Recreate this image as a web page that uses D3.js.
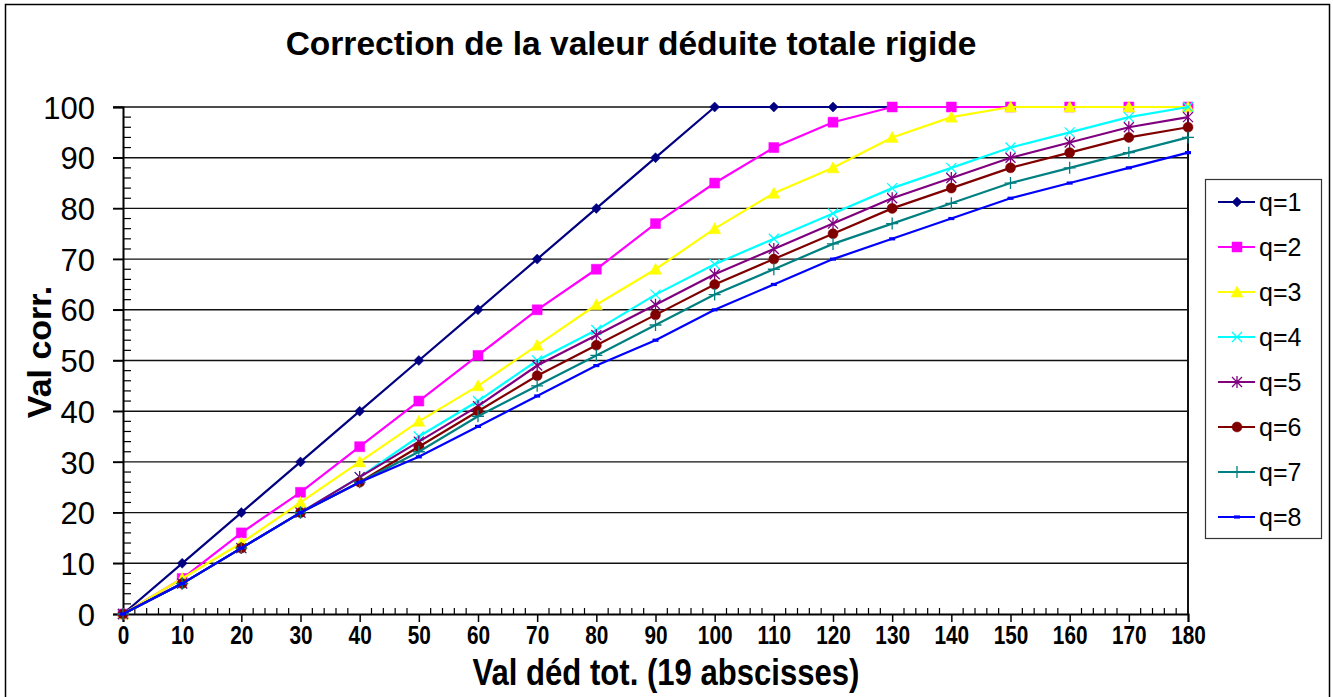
<!DOCTYPE html>
<html>
<head>
<meta charset="utf-8">
<script src="https://cdn.jsdelivr.net/npm/d3@7"></script>
<style>
  body { margin: 0; background: #fff; }
  svg { display: block; }
  text { font-family: "Liberation Sans", Arial, sans-serif; fill: #000; }
</style>
</head>
<body>
<script>
// abscissa values (19 points)
var xVals = [0, 10, 20, 30, 40, 50, 60, 70, 80, 90, 100, 110, 120, 130, 140, 150, 160, 170, 180];

// corrected values for each q
var q1 = [0, 10, 20, 30, 40, 50, 60, 70, 80, 90, 100, 100, 100, 100, 100, 100, 100, 100, 100];
var q2 = [0, 7, 16, 24, 33, 42, 51, 60, 68, 77, 85, 92, 97, 100, 100, 100, 100, 100, 100];
var q3 = [0, 7, 14, 22, 30, 38, 45, 53, 61, 68, 76, 83, 88, 94, 98, 100, 100, 100, 100];
var q4 = [0, 6, 13, 20, 27, 35, 42, 50, 56, 63, 69, 74, 79, 84, 88, 92, 95, 98, 100];
var q5 = [0, 6, 13, 20, 27, 34, 41, 49, 55, 61, 67, 72, 77, 82, 86, 90, 93, 96, 98];
var q6 = [0, 6, 13, 20, 26, 33, 40, 47, 53, 59, 65, 70, 75, 80, 84, 88, 91, 94, 96];
var q7 = [0, 6, 13, 20, 26, 32, 39, 45, 51, 57, 63, 68, 73, 77, 81, 85, 88, 91, 94];
var q8 = [0, 6, 13, 20, 26, 31, 37, 43, 49, 54, 60, 65, 70, 74, 78, 82, 85, 88, 91];

var seriesNames = ['q=1', 'q=2', 'q=3', 'q=4', 'q=5', 'q=6', 'q=7', 'q=8'];
var seriesColors = ['#000080', '#ff00ff', '#ffff00', '#00ffff', '#800080', '#800000', '#008080', '#0000ff'];
var seriesMarkers = ['diamond', 'square', 'triangle', 'cross', 'star', 'circle', 'plus', 'dash'];

var yTicks = [0, 10, 20, 30, 40, 50, 60, 70, 80, 90, 100];

var chartTitle = 'Correction de la valeur déduite totale rigide';
var xTitle = 'Val déd tot. (19 abscisses)';
var yTitle = 'Val corr.';

var W = 1333, H = 697;
var plot = { left: 123, right: 1188, top: 107, bottom: 614 };

var series = [q1, q2, q3, q4, q5, q6, q7, q8].map(function (vals, i) {
  return {
    name: seriesNames[i],
    color: seriesColors[i],
    marker: seriesMarkers[i],
    points: vals.map(function (v, j) { return { x: xVals[j], y: v }; })
  };
});

var x = d3.scaleLinear().domain([0, 180]).range([plot.left, plot.right]);
var y = d3.scaleLinear().domain([0, 100]).range([plot.bottom, plot.top]);

var svg = d3.select('body').append('svg')
  .attr('width', W)
  .attr('height', H);

// outer chart border
svg.append('rect')
  .attr('x', 5.5).attr('y', 4.5)
  .attr('width', 1324).attr('height', 700)
  .attr('fill', 'none')
  .attr('stroke', '#000')
  .attr('stroke-width', 1.5);

// make condensed text from the regular bold face
function narrow(sel, k) {
  sel.each(function () {
    var len = this.getComputedTextLength();
    d3.select(this)
      .attr('textLength', len * k)
      .attr('lengthAdjust', 'spacingAndGlyphs');
  });
}

// horizontal gridlines
svg.append('g')
  .selectAll('line')
  .data(yTicks.filter(function (d) { return d > 0; }))
  .enter()
  .append('line')
    .attr('x1', plot.left - 10)
    .attr('x2', plot.right)
    .attr('y1', function (d) { return y(d); })
    .attr('y2', function (d) { return y(d); })
    .attr('stroke', '#111')
    .attr('stroke-width', 1.4);

// right border of the plot area
svg.append('line')
  .attr('x1', plot.right).attr('x2', plot.right)
  .attr('y1', plot.top).attr('y2', plot.bottom)
  .attr('stroke', '#111')
  .attr('stroke-width', 2);

// minor ticks (every 2 units), drawn inside the plot
var yMinor = d3.range(0, 101, 2).filter(function (d) { return d % 10 !== 0; });
var xMinor = d3.range(0, 181, 2).filter(function (d) { return d % 10 !== 0; });

var yAxis = d3.axisLeft(y).tickValues(yTicks).tickSize(10).tickPadding(18);
var xAxis = d3.axisBottom(x).tickValues(xVals).tickSize(8).tickPadding(4);

var gy = svg.append('g')
  .attr('transform', 'translate(' + plot.left + ',0)')
  .call(yAxis);
gy.select('.domain').attr('stroke', '#000').attr('stroke-width', 2);
gy.selectAll('.tick line').attr('stroke', '#000').attr('stroke-width', 1.5);
gy.selectAll('.tick text')
  .style('font-size', '31px')
  .style('font-family', '"Liberation Sans", Arial, sans-serif')
  .attr('dy', '0.36em');

gy.selectAll('.minor')
  .data(yMinor)
  .enter()
  .append('line')
    .attr('class', 'minor')
    .attr('x1', 0).attr('x2', 8)
    .attr('y1', function (d) { return y(d); })
    .attr('y2', function (d) { return y(d); })
    .attr('stroke', '#000')
    .attr('stroke-width', 1.2);

var gx = svg.append('g')
  .attr('transform', 'translate(0,' + plot.bottom + ')')
  .call(xAxis);
gx.select('.domain').attr('stroke', '#000').attr('stroke-width', 2);
gx.selectAll('.tick line').attr('stroke', '#000').attr('stroke-width', 1.5);
gx.selectAll('.tick text')
  .style('font-size', '26px')
  .style('font-weight', 'bold')
  .style('font-family', '"Liberation Sans", Arial, sans-serif')
  .call(narrow, 0.8);

gx.selectAll('.minor')
  .data(xMinor)
  .enter()
  .append('line')
    .attr('class', 'minor')
    .attr('y1', 0).attr('y2', -6)
    .attr('x1', function (d) { return x(d); })
    .attr('x2', function (d) { return x(d); })
    .attr('stroke', '#000')
    .attr('stroke-width', 1.2);

// marker shapes
function markerPath(type) {
  switch (type) {
    case 'diamond': return 'M0,-5L5,0L0,5L-5,0Z';
    case 'square': return 'M-5,-5H5V5H-5Z';
    case 'triangle': return 'M0,-6L6,5H-6Z';
    case 'circle': return 'M-5,0A5,5 0 1,0 5,0A5,5 0 1,0 -5,0Z';
    case 'cross': return 'M-5,-5L5,5M-5,5L5,-5';
    case 'star': return 'M-5,-5L5,5M-5,5L5,-5M0,-6V6';
    case 'plus': return 'M-6,0H6M0,-6V6';
    case 'dash': return 'M-3,0H3';
  }
}
function isFilled(type) {
  return ['diamond', 'square', 'triangle', 'circle'].indexOf(type) >= 0;
}
function markerWidth(type) {
  if (type === 'dash') return 3.2;
  return isFilled(type) ? 0.5 : 1.3;
}

var line = d3.line()
  .x(function (d) { return x(d.x); })
  .y(function (d) { return y(d.y); });

var gs = svg.append('g')
  .selectAll('g')
  .data(series)
  .enter()
  .append('g')
  .attr('class', 'series');

gs.append('path')
  .attr('d', function (d) { return line(d.points); })
  .attr('fill', 'none')
  .attr('stroke', function (d) { return d.color; })
  .attr('stroke-width', 2.2);

gs.each(function (s) {
  d3.select(this).selectAll('.mk')
    .data(s.points)
    .enter()
    .append('path')
      .attr('class', 'mk')
      .attr('transform', function (d) { return 'translate(' + x(d.x) + ',' + y(d.y) + ')'; })
      .attr('d', markerPath(s.marker))
      .attr('fill', isFilled(s.marker) ? s.color : 'none')
      .attr('stroke', s.color)
      .attr('stroke-width', markerWidth(s.marker));
});

// legend
var legend = svg.append('g');
legend.append('rect')
  .attr('x', 1205.5).attr('y', 179.5)
  .attr('width', 116).attr('height', 359)
  .attr('fill', '#fff')
  .attr('stroke', '#333')
  .attr('stroke-width', 1.2);

var li = legend.selectAll('.item')
  .data(series)
  .enter()
  .append('g')
  .attr('class', 'item')
  .attr('transform', function (d, i) { return 'translate(0,' + (202 + i * 45) + ')'; });

li.append('line')
  .attr('x1', 1218).attr('x2', 1255)
  .attr('stroke', function (d) { return d.color; })
  .attr('stroke-width', 2.2);
li.append('path')
  .attr('transform', 'translate(1237,0)')
  .attr('d', function (d) { return markerPath(d.marker); })
  .attr('fill', function (d) { return isFilled(d.marker) ? d.color : 'none'; })
  .attr('stroke', function (d) { return d.color; })
  .attr('stroke-width', function (d) { return markerWidth(d.marker); });
li.append('text')
  .attr('x', 1259)
  .attr('dy', '0.36em')
  .style('font-size', '25px')
  .text(function (d) { return d.name; });

// titles
svg.append('text')
  .attr('x', 631).attr('y', 55)
  .attr('text-anchor', 'middle')
  .style('font-size', '33.5px')
  .style('font-weight', 'bold')
  .text(chartTitle);

svg.append('text')
  .attr('x', 666).attr('y', 685)
  .attr('text-anchor', 'middle')
  .style('font-size', '37px')
  .style('font-weight', 'bold')
  .text(xTitle)
  .call(narrow, 0.84);

svg.append('text')
  .attr('transform', 'translate(51,352) rotate(-90)')
  .attr('text-anchor', 'middle')
  .style('font-size', '34px')
  .style('font-weight', 'bold')
  .text(yTitle);
</script>
</body>
</html>
